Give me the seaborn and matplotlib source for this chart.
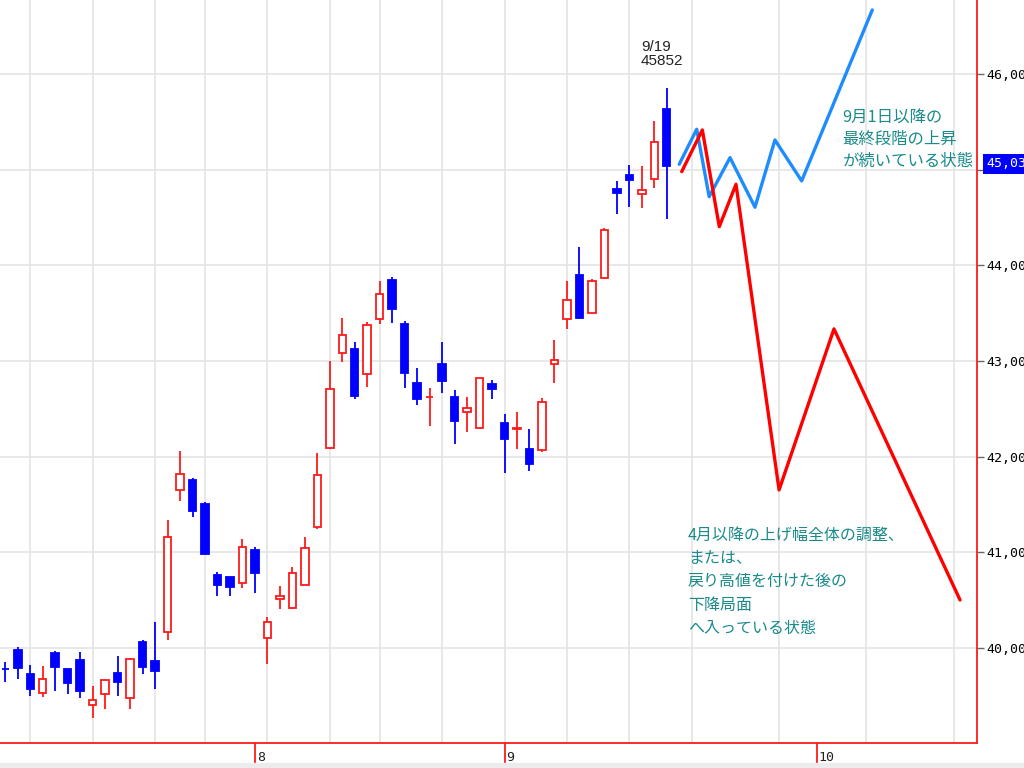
import numpy as np
import pandas as pd
import seaborn as sns
import matplotlib.pyplot as plt
from matplotlib.patches import Rectangle
from matplotlib.transforms import blended_transform_factory

sns.set_style("white")
plt.rcParams['font.family'] = ['Noto Sans CJK JP', 'DejaVu Sans']

# daily candles (index 0..53), last one is 9/19
opens = [39780, 39979, 39725, 39533, 39945, 39784, 39875, 39404, 39519, 39736,
         39481, 40060, 39861, 40167, 41649, 41759, 41508, 40763, 40739, 40680,
         41028, 40102, 40512, 40422, 40656, 41265, 42094, 43087, 43129, 42861,
         43436, 43847, 43390, 42773, 42620, 42972, 42621, 42470, 42303, 42760,
         42355, 42294, 42083, 42070, 42969, 43436, 43899, 43499, 43864, 44801,
         44944, 44743, 44902, 45637]
closes = [39776, 39788, 39568, 39676, 39805, 39637, 39554, 39457, 39663, 39648,
          39885, 39805, 39763, 41164, 41822, 41435, 40980, 40662, 40638, 41059,
          40784, 40275, 40541, 40787, 41049, 41808, 42707, 43269, 42634, 43373,
          43704, 43540, 42872, 42600, 42628, 42794, 42376, 42512, 42826, 42704,
          42182, 42300, 41920, 42575, 43007, 43635, 43446, 43836, 44369, 44753,
          44895, 44784, 45292, 45038]
highs = [39857, 40008, 39822, 39812, 39969, 39784, 39955, 39603, 39663, 39917,
         39899, 40084, 40269, 41338, 42059, 41774, 41526, 40795, 40739, 41143,
         41053, 40321, 40648, 40847, 41157, 42035, 43000, 43446, 43196, 43408,
         43836, 43875, 43415, 42924, 42715, 43196, 42697, 42621, 42826, 42801,
         42449, 42464, 42292, 42610, 43220, 43836, 44189, 43854, 44387, 44882,
         45049, 45038, 45509, 45852]
lows = [39648, 39673, 39502, 39491, 39554, 39519, 39474, 39265, 39360, 39502,
        39360, 39725, 39568, 40079, 41540, 41366, 40980, 40547, 40547, 40627,
        40572, 39830, 40405, 40408, 40656, 41241, 42080, 42993, 42600, 42728,
        43384, 43394, 42715, 42543, 42324, 42662, 42129, 42258, 42286, 42600,
        41826, 42077, 41853, 42046, 42767, 43331, 43436, 43499, 43854, 44533,
        44607, 44596, 44805, 44481]

# two scenarios drawn by hand after the last candle
bull_x = [54.0, 55.4, 56.4, 58.07, 60.07, 61.67, 63.81, 69.47]
bull_y = [45056, 45422, 44717, 45125, 44607, 45310, 44882, 46669]
bear_x = [54.2, 55.85, 57.21, 58.55, 62.0, 66.4, 76.5]
bear_y = [44979, 45415, 44404, 44847, 41652, 43335, 40502]

grid_x = [2, 7, 12, 16, 21, 26, 30, 35, 40, 45, 50, 55, 62, 69, 76]
month_x = [20, 40, 65]
month_labels = ['8', '9', '10']
price_ticks = [40000, 41000, 42000, 43000, 44000, 45000, 46000]

RED = '#ff1a1a'
BLUE = '#0000ff'
TEAL = '#1a8a8a'

fig = plt.figure(figsize=(10.24, 7.68), dpi=100)
ax = fig.add_axes([0, 25 / 768, 977 / 1024, 743 / 768])

df = pd.DataFrame(dict(open=opens, high=highs, low=lows, close=closes))
df['x'] = np.arange(len(df))
up = df['close'] >= df['open']
dn = ~up

ax.vlines(df.x[up], df.low[up], df.high[up], color=RED, lw=1.3, zorder=2)
ax.vlines(df.x[dn], df.low[dn], df.high[dn], color=BLUE, lw=1.3, zorder=2)
ax.bar(df.x[up], (df.close - df.open)[up], bottom=df.open[up], width=0.6,
       facecolor='white', edgecolor=RED, lw=1.3, zorder=3)
ax.bar(df.x[dn], (df.open - df.close)[dn], bottom=df.close[dn], width=0.6,
       facecolor=BLUE, edgecolor=BLUE, lw=1.3, zorder=3)

proj = pd.DataFrame({
    'x': bull_x + bear_x,
    'y': bull_y + bear_y,
    'case': ['bull'] * len(bull_x) + ['bear'] * len(bear_x),
})
sns.lineplot(data=proj, x='x', y='y', hue='case', sort=False, estimator=None,
             palette={'bull': '#1e8cff', 'bear': '#ff0000'}, lw=2.4,
             legend=False, ax=ax, zorder=4)

ax.set_xlim(-0.425, 77.86)
ax.set_ylim(39007, 46773)
ax.set_xlabel('')
ax.set_ylabel('')

ax.set_xticks(grid_x)
ax.set_yticks(price_ticks)
ax.grid(True, color='#e2e2e2', lw=1.1, zorder=0)
ax.yaxis.tick_right()
# the 45,000 label sits under the current-price box
ax.set_yticklabels(['' if p == 45000 else f'{p:,}' for p in price_ticks],
                   family='DejaVu Sans Mono')
ax.tick_params(axis='x', colors=RED, length=4, width=1.2, labelbottom=False)
ax.tick_params(axis='y', color='#666666', length=5, width=1, labelsize=9.5,
               labelcolor='black', pad=2)

for s in ['top', 'left']:
    ax.spines[s].set_visible(False)
for s in ['right', 'bottom']:
    ax.spines[s].set_color(RED)
    ax.spines[s].set_linewidth(1.3)

# month separators
bt = blended_transform_factory(ax.transData, ax.transAxes)
for mx, ml in zip(month_x, month_labels):
    ax.plot([mx, mx], [0, -0.027], transform=bt, color=RED, lw=1.3, clip_on=False)
    ax.text(mx + 0.15, -0.019, ml, transform=bt, ha='left', va='center',
            fontsize=9.5, family='DejaVu Sans Mono', color='#222222')

# current price box
rt = blended_transform_factory(ax.transAxes, ax.transData)
ax.text(1.01, 45059, f'{closes[-1]:,}', transform=rt, color='white',
        fontsize=9.5, family='DejaVu Sans Mono', va='center', ha='left',
        bbox=dict(boxstyle='square,pad=0.3', fc=BLUE, ec='none'), clip_on=False)

ax.text(50.94, 46350, f'9/19\n{highs[-1]}', fontsize=11, family='Liberation Sans',
        color='#222222', ha='left', va='top', linespacing=1.0)

ax.text(67.1, 45640, '9月1日以降の\n最終段階の上昇\nが続いている状態',
        fontsize=11.8, color=TEAL, ha='left', va='top', linespacing=1.42)
ax.text(54.7, 41270, '4月以降の上げ幅全体の調整、\nまたは、\n戻り高値を付けた後の\n下降局面\nへ入っている状態',
        fontsize=11.5, color=TEAL, ha='left', va='top', linespacing=1.5)

fig.patches.append(Rectangle((0, 0), 1, 5 / 768, transform=fig.transFigure,
                             color='#ececec', zorder=0))

fig.savefig('out.png', dpi=100)
